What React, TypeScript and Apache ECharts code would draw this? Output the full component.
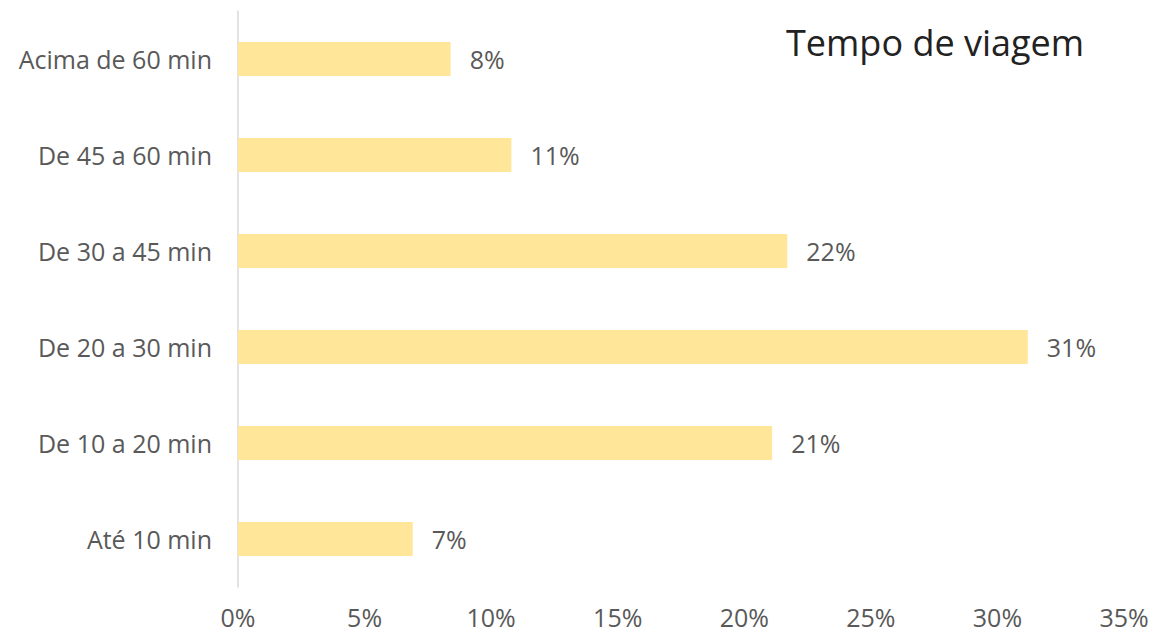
import React, { useEffect, useRef } from "react";
import * as echarts from "echarts";

const categories = ["Até 10 min", "De 10 a 20 min", "De 20 a 30 min", "De 30 a 45 min", "De 45 a 60 min", "Acima de 60 min"];
const values = [6.9, 21.1, 31.2, 21.7, 10.8, 8.4];
const labels = ["7%", "21%", "31%", "22%", "11%", "8%"];
const xTicks = [0, 5, 10, 15, 20, 25, 30, 35];
const title = "Tempo de viagem";

export default function App() {
  const ref = useRef<HTMLDivElement>(null);
  useEffect(() => {
    if (!ref.current) return;
    const chart = echarts.init(ref.current, undefined, { renderer: "svg" });
    const font = "'Open Sans', sans-serif";
    chart.setOption({
      animation: false,
      backgroundColor: "#ffffff",
      title: {
        text: title,
        left: 781,
        top: 19,
        textStyle: { fontFamily: font, fontSize: 36, fontWeight: "normal", color: "#222222" },
      },
      grid: { left: 238, right: 29, top: 11, bottom: 47 },
      xAxis: {
        type: "value",
        min: xTicks[0],
        max: xTicks[xTicks.length - 1],
        interval: 5,
        axisLine: { show: false },
        axisTick: { show: false },
        splitLine: { show: false },
        axisLabel: {
          formatter: (v: number) => v + "%",
          fontFamily: font,
          fontSize: 25,
          color: "#595959",
          margin: 17,
        },
      },
      yAxis: {
        type: "category",
        data: categories,
        axisLine: { show: true, lineStyle: { color: "#d9d9d9", width: 1.5 } },
        axisTick: { show: false },
        axisLabel: { fontFamily: font, fontSize: 25, color: "#595959", margin: 26 },
      },
      series: [
        {
          type: "bar",
          data: values,
          barWidth: 34,
          itemStyle: { color: "#FFE699" },
          label: {
            show: true,
            position: "right",
            distance: 19,
            fontFamily: font,
            fontSize: 25,
            color: "#595959",
            formatter: (p: any) => labels[p.dataIndex],
          },
        },
      ],
    });
    return () => chart.dispose();
  }, []);
  return <div ref={ref} style={{ position: "absolute", left: 0, top: 0, width: 1153, height: 634 }} />;
}
